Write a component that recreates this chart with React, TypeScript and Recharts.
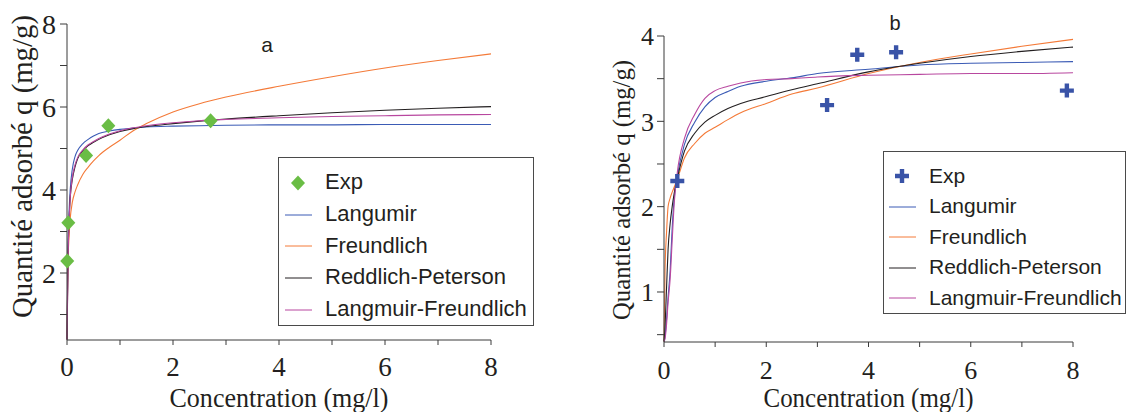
import React from "react"
import { ComposedChart, Line, Scatter, XAxis, YAxis, Legend } from "recharts"

// ---- panel a ----
const A_X = [0, 0.01, 0.02, 0.04, 0.06, 0.1, 0.15, 0.2, 0.3, 0.4, 0.5, 0.6, 0.8, 1, 1.25, 1.5, 2, 2.5, 3, 4, 5, 6, 7, 8]
const A_LANGMUIR = [0.4, 1.6, 2.6, 3.5, 4.0, 4.5, 4.8, 4.95, 5.12, 5.22, 5.3, 5.36, 5.42, 5.46, 5.49, 5.52, 5.54, 5.55, 5.56, 5.57, 5.57, 5.58, 5.58, 5.58]
const A_FREUNDLICH = [0.4, 1.5, 2.3, 2.9, 3.3, 3.7, 3.95, 4.12, 4.38, 4.55, 4.7, 4.83, 5.03, 5.2, 5.43, 5.6, 5.88, 6.08, 6.24, 6.5, 6.73, 6.94, 7.12, 7.28]
const A_RP = [0.4, 1.4, 2.4, 3.3, 3.8, 4.25, 4.55, 4.75, 4.95, 5.07, 5.15, 5.22, 5.33, 5.41, 5.48, 5.53, 5.6, 5.66, 5.71, 5.79, 5.86, 5.92, 5.97, 6.01]
const A_LF = [0.4, 1.3, 2.3, 3.25, 3.8, 4.3, 4.6, 4.78, 4.97, 5.09, 5.17, 5.24, 5.35, 5.43, 5.5, 5.55, 5.62, 5.67, 5.7, 5.74, 5.77, 5.79, 5.81, 5.82]
const A_EXP_X = [0.005, 0.025, 0.36, 0.78, 2.71]
const A_EXP_Y = [2.29, 3.21, 4.83, 5.55, 5.67]

// ---- panel b ----
const B_X = [0, 0.02, 0.05, 0.08, 0.12, 0.16, 0.2, 0.26, 0.4, 0.6, 0.8, 1, 1.25, 1.5, 2, 2.5, 3, 4, 5, 6, 7, 8]
const B_LANGMUIR = [0.42, 0.48, 0.68, 0.94, 1.25, 1.75, 2.1, 2.36, 2.73, 2.99, 3.17, 3.28, 3.35, 3.41, 3.47, 3.51, 3.56, 3.61, 3.66, 3.68, 3.69, 3.7]
const B_FREUNDLICH = [0.42, 1.25, 1.7, 2.0, 2.1, 2.17, 2.23, 2.32, 2.57, 2.74, 2.86, 2.93, 3.02, 3.1, 3.21, 3.32, 3.39, 3.56, 3.69, 3.79, 3.88, 3.96]
const B_RP = [0.42, 0.6, 1.05, 1.5, 1.8, 2.0, 2.16, 2.33, 2.65, 2.86, 2.99, 3.07, 3.15, 3.21, 3.29, 3.37, 3.44, 3.58, 3.68, 3.76, 3.82, 3.87]
const B_LF = [0.42, 0.45, 0.62, 0.88, 1.15, 1.6, 2.04, 2.4, 2.8, 3.08, 3.27, 3.36, 3.41, 3.45, 3.49, 3.5, 3.52, 3.54, 3.55, 3.56, 3.56, 3.57]
const B_EXP_X = [0.26, 3.19, 3.78, 4.54, 7.88]
const B_EXP_Y = [2.3, 3.19, 3.78, 3.81, 3.36]

const X_TICKS = [0, 1, 2, 3, 4, 5, 6, 7, 8]
const A_Y_TICKS = [1, 2, 3, 4, 5, 6, 7, 8]
const B_Y_TICKS = [0.5, 1, 1.5, 2, 2.5, 3, 3.5, 4]

const SERIES_NAMES = ["Langumir", "Freundlich", "Reddlich-Peterson", "Langmuir-Freundlich"]
const COLORS = ["#3b5bb5", "#f47a38", "#231f20", "#b8479f"]
const GREEN = "#6abd45"
const PLUS_BLUE = "#3953a7"

const SERIF = "'Liberation Serif', 'Times New Roman', serif"
const SANS = "'Liberation Sans', Arial, sans-serif"
const INK = "#231f20"
const AXIS = "#3a3a3a"

const pts = (xs: number[], ys: number[]) => xs.map((x, i) => ({ x, y: ys[i] }))

const Diamond = (p: any) => (
  <polygon
    points={`${p.cx},${p.cy - 7.5} ${p.cx + 7},${p.cy} ${p.cx},${p.cy + 7.5} ${p.cx - 7},${p.cy}`}
    fill={GREEN}
  />
)

const Plus = (p: any) => (
  <path
    d={`M${p.cx - 7},${p.cy - 2.2}h4.8v-4.8h4.4v4.8h4.8v4.4h-4.8v4.8h-4.4v-4.8h-4.8z`}
    fill={PLUS_BLUE}
  />
)

function XTitle({ viewBox, text, size, len, dy }: any) {
  const { x, y, width } = viewBox
  return (
    <text
      x={x + width / 2}
      y={y + dy}
      textAnchor="middle"
      fontFamily={SERIF}
      fontSize={size}
      fill={INK}
      textLength={len}
      lengthAdjust="spacingAndGlyphs"
    >
      {text}
    </text>
  )
}

function YTitle({ viewBox, text, size, len, bx, dyc }: any) {
  const { y, height } = viewBox
  const cy = y + height / 2 + dyc
  return (
    <text
      x={bx}
      y={cy}
      transform={`rotate(-90 ${bx} ${cy})`}
      textAnchor="middle"
      fontFamily={SERIF}
      fontSize={size}
      fill={INK}
      textLength={len}
      lengthAdjust="spacingAndGlyphs"
    >
      {text}
    </text>
  )
}

function LegendBox({ w, h, first, gap, textX, lineX1, lineX2, markerX, fontSize, marker }: any) {
  const rows = ["Exp", ...SERIES_NAMES]
  return (
    <div style={{ position: "relative", width: w, height: h, border: "1px solid #4a4a4a", boxSizing: "border-box", background: "#fff" }}>
      {rows.map((name, i) => {
        const cy = first + i * gap
        return (
          <div key={name}>
            <svg style={{ position: "absolute", left: 0, top: cy - 10 }} width={40} height={20}>
              {i === 0
                ? marker === "diamond"
                  ? <Diamond cx={markerX} cy={10} />
                  : <Plus cx={markerX} cy={10} />
                : <line x1={lineX1} x2={lineX2} y1={10} y2={10} stroke={COLORS[i - 1]} strokeWidth={1} />}
            </svg>
            <span
              style={{
                position: "absolute",
                left: textX,
                top: cy - fontSize * 0.62,
                fontFamily: SANS,
                fontSize,
                lineHeight: 1.2 + "em",
                color: INK,
                whiteSpace: "nowrap",
              }}
            >
              {name}
            </span>
          </div>
        )
      })}
    </div>
  )
}

const evenOnly = (v: number) => (v % 2 === 0 ? String(v) : "")
const intOnly = (v: number) => (v % 1 === 0 ? String(v) : "")

function PanelA() {
  const curves = [A_LANGMUIR, A_FREUNDLICH, A_RP, A_LF]
  return (
    <ComposedChart width={560} height={412} margin={{ top: 24, right: 69, bottom: 42, left: 0 }}>
      <XAxis
        type="number"
        dataKey="x"
        domain={[0, 8]}
        ticks={X_TICKS}
        tickFormatter={evenOnly}
        height={30}
        stroke={AXIS}
        tickSize={5}
        tickMargin={12}
        tick={{ fontFamily: SERIF, fontSize: 27, fill: INK }}
        label={<XTitle text="Concentration (mg/l)" size={28} len={219} dy={67} />}
      />
      <YAxis
        type="number"
        dataKey="y"
        domain={[0.386, 8]}
        ticks={A_Y_TICKS}
        tickFormatter={evenOnly}
        width={67}
        stroke={AXIS}
        tickSize={7}
        tickMargin={4}
        tick={{ fontFamily: SERIF, fontSize: 28, fill: INK }}
        label={<YTitle text="Quantité adsorbé q (mg/g)" size={29} len={303} bx={32} dyc={-15.5} />}
      />
      {curves.map((ys, i) => (
        <Line
          key={SERIES_NAMES[i]}
          data={pts(A_X, ys)}
          dataKey="y"
          name={SERIES_NAMES[i]}
          type="monotone"
          stroke={COLORS[i]}
          strokeWidth={1.1}
          dot={false}
          isAnimationActive={false}
        />
      ))}
      <Scatter data={pts(A_EXP_X, A_EXP_Y)} dataKey="y" name="Exp" fill={GREEN} shape={Diamond} isAnimationActive={false} />
      <Legend
        layout="vertical"
        align="center"
        verticalAlign="middle"
        wrapperStyle={{ left: 278, top: 157, width: 256, height: 169 }}
        content={() => (
          <LegendBox w={256} h={169} first={25} gap={31.7} textX={46} lineX1={6} lineX2={33} markerX={19} fontSize={22} marker="diamond" />
        )}
      />
    </ComposedChart>
  )
}

function PanelB() {
  const curves = [B_LANGMUIR, B_FREUNDLICH, B_RP, B_LF]
  return (
    <ComposedChart width={562} height={412} margin={{ top: 36, right: 53, bottom: 40, left: 0 }}>
      <XAxis
        type="number"
        dataKey="x"
        domain={[0, 8]}
        ticks={X_TICKS}
        tickFormatter={evenOnly}
        height={30}
        stroke={AXIS}
        tickSize={5}
        tickMargin={14}
        tick={{ fontFamily: SERIF, fontSize: 26, fill: INK }}
        label={<XTitle text="Concentration (mg/l)" size={27} len={210} dy={65} />}
      />
      <YAxis
        type="number"
        dataKey="y"
        domain={[0.414, 4]}
        ticks={B_Y_TICKS}
        tickFormatter={intOnly}
        width={100}
        stroke={AXIS}
        tickSize={7}
        tickMargin={3}
        tick={{ fontFamily: SERIF, fontSize: 26, fill: INK }}
        label={<YTitle text="Quantité adsorbé q (mg/g)" size={25} len={260} bx={66} dyc={1} />}
      />
      {curves.map((ys, i) => (
        <Line
          key={SERIES_NAMES[i]}
          data={pts(B_X, ys)}
          dataKey="y"
          name={SERIES_NAMES[i]}
          type="monotone"
          stroke={COLORS[i]}
          strokeWidth={1.1}
          dot={false}
          isAnimationActive={false}
        />
      ))}
      <Scatter data={pts(B_EXP_X, B_EXP_Y)} dataKey="y" name="Exp" fill={PLUS_BLUE} shape={Plus} isAnimationActive={false} />
      <Legend
        layout="vertical"
        align="center"
        verticalAlign="middle"
        wrapperStyle={{ left: 319, top: 151, width: 243, height: 163 }}
        content={() => (
          <LegendBox w={243} h={163} first={24} gap={30.5} textX={45} lineX1={5} lineX2={32} markerX={18} fontSize={21} marker="plus" />
        )}
      />
    </ComposedChart>
  )
}

export default function App() {
  return (
    <div style={{ position: "absolute", left: 0, top: 0, width: 1126, height: 412, background: "#fff", overflow: "hidden" }}>
      <div style={{ position: "absolute", left: 0, top: 0 }}>
        <PanelA />
      </div>
      <div style={{ position: "absolute", left: 564, top: 0 }}>
        <PanelB />
      </div>
      <span style={{ position: "absolute", left: 267, top: 53, transform: "translate(-50%, -82%)", fontFamily: SANS, fontSize: 21, color: INK }}>a</span>
      <span style={{ position: "absolute", left: 895, top: 31, transform: "translate(-50%, -82%)", fontFamily: SANS, fontSize: 20, color: INK }}>b</span>
    </div>
  )
}
